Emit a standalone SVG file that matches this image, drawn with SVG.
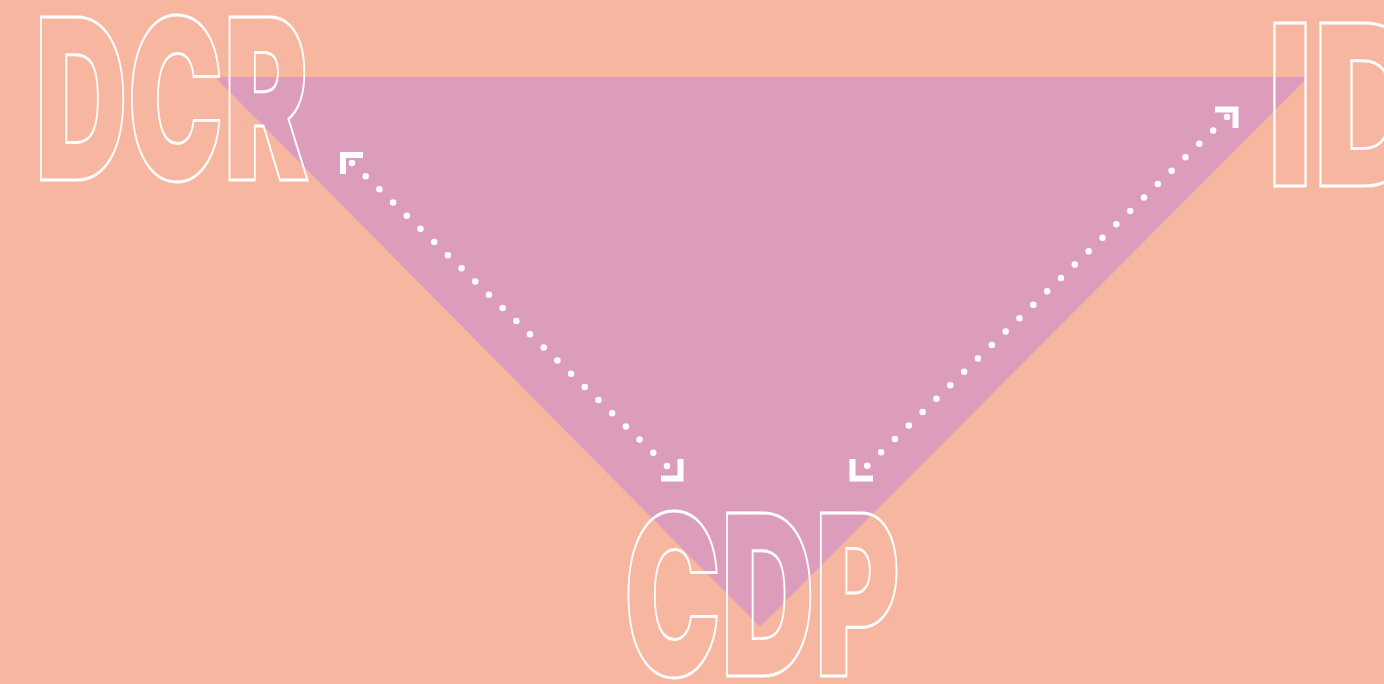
<svg xmlns="http://www.w3.org/2000/svg" width="1384" height="684" viewBox="0 0 1384 684">
<style>
.lbl{font-family:Inter,"Liberation Sans",Arial,sans-serif;font-weight:900;font-size:224px;fill:none;stroke:#ffffff;stroke-width:3;vector-effect:non-scaling-stroke}
.dots{fill:none;stroke:#ffffff;stroke-width:6.5;stroke-linecap:round}
.head{fill:none;stroke:#ffffff;stroke-width:6;stroke-linecap:butt;stroke-linejoin:miter}
</style>
<rect x="0" y="0" width="1384" height="684" fill="#F6B6A0"/>
<polygon id="triangle" points="215,77 1308,77 760,627" fill="#DC9DBC"/>
<g id="connectors">
  <line class="dots" x1="352" y1="163" x2="667" y2="466" stroke-dasharray="0 19"/>
  <polyline class="head" points="343,174 343,155 363,155"/>
  <polyline class="head" points="661,478.5 680.5,478.5 680.5,459"/>
  <line class="dots" x1="1227" y1="117" x2="867" y2="466" stroke-dasharray="0 19.27"/>
  <polyline class="head" points="1215,109.5 1235.5,109.5 1235.5,128"/>
  <polyline class="head" points="852.5,459 852.5,478.5 873,478.5"/>
</g>
<g id="node-dcr">
  <text class="lbl" x="35" y="180" textLength="274" lengthAdjust="spacingAndGlyphs">DCR</text>
</g>
<g id="node-id">
  <text class="lbl" x="1267" y="186" textLength="160" lengthAdjust="spacingAndGlyphs">ID</text>
</g>
<g id="node-cdp">
  <text class="lbl" x="624" y="676" textLength="276" lengthAdjust="spacingAndGlyphs">CDP</text>
</g>
</svg>
